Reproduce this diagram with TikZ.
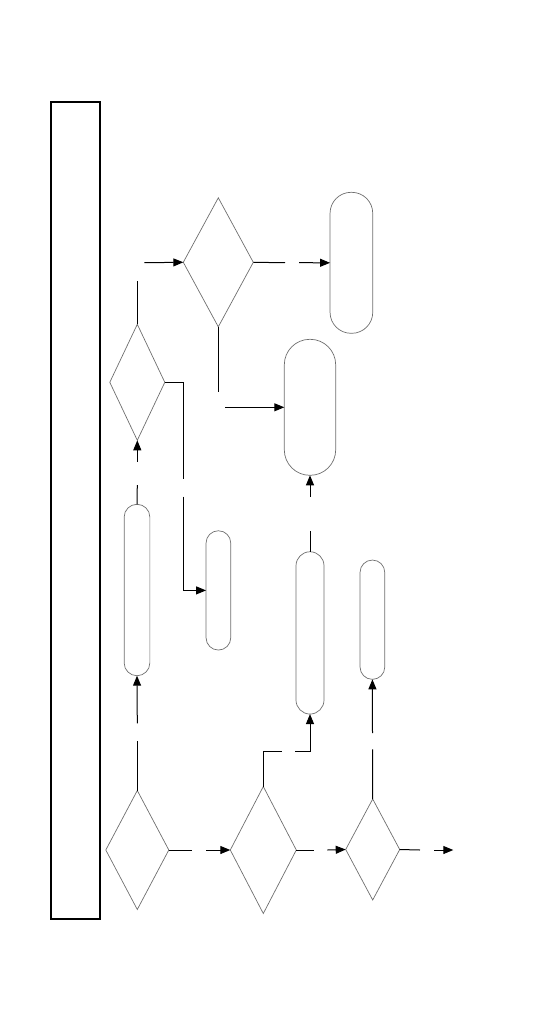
\documentclass[tikz,border=0pt]{standalone}
\usetikzlibrary{shapes.geometric,arrows.meta}
\definecolor{shapegray}{HTML}{6E6E6E}
\tikzset{
  dia/.style={diamond,draw=shapegray,line width=0.7pt,inner sep=0pt,outer sep=0pt},
  pill/.style={rectangle,draw=shapegray,line width=0.7pt,inner sep=0pt,outer sep=0pt},
  framebox/.style={rectangle,draw=black,line width=1.2pt,inner sep=0pt,outer sep=0pt,minimum width=49pt,minimum height=817pt},
  conn/.style={draw=black,line width=1pt},
  arr/.style={conn,-{Triangle[length=10pt,width=8pt]}}
}
\begin{document}
\begin{tikzpicture}[x=1pt,y=-1pt]
\useasboundingbox (0,0) rectangle (540,1026);
% frame
\node[framebox] (frame) at (75.5,510.5) {};
% diamonds
\node[dia,minimum width=70pt,minimum height=129pt] (D1) at (218.3,262.3) {};
\node[dia,minimum width=55pt,minimum height=116pt] (D2) at (137.3,382.3) {};
\node[dia,minimum width=63pt,minimum height=119pt] (D3) at (137.3,850) {};
\node[dia,minimum width=66pt,minimum height=127pt] (D4) at (263.3,850) {};
\node[dia,minimum width=54pt,minimum height=101pt] (D5) at (372.7,849.5) {};
% rounded boxes
\node[pill,rounded corners=21pt,minimum width=42.7pt,minimum height=141pt] (T1) at (351.4,262.8) {};
\node[pill,rounded corners=25.5pt,minimum width=51.4pt,minimum height=136pt] (R4) at (310,407.3) {};
\node[pill,rounded corners=12.8pt,minimum width=25.7pt,minimum height=171.4pt] (R1) at (137,590) {};
\node[pill,rounded corners=12.3pt,minimum width=24.7pt,minimum height=119.3pt] (R2) at (218.4,590.4) {};
\node[pill,rounded corners=14pt,minimum width=28pt,minimum height=162.3pt] (R3) at (310,632.9) {};
\node[pill,rounded corners=12.3pt,minimum width=24.7pt,minimum height=119.3pt] (R5) at (372.4,619.7) {};
% gap coordinates
\coordinate (a1) at (137.3,281);
\coordinate (a2) at (144.3,262.7);
\coordinate (b1) at (285,262.7);
\coordinate (b2) at (299,262.7);
\coordinate (c1) at (218.3,391.7);
\coordinate (c2) at (225,407.3);
\coordinate (d0) at (183.3,382.3);
\coordinate (d1) at (183.3,479.3);
\coordinate (d2) at (183.3,496.7);
\coordinate (e1) at (137.3,485);
\coordinate (e2) at (137.3,461.7);
\coordinate (f1) at (137.3,741);
\coordinate (f2) at (137.3,723.3);
\coordinate (g1) at (191.7,850);
\coordinate (g2) at (206,850);
\coordinate (h0) at (263.3,751.7);
\coordinate (h1) at (281.7,751.7);
\coordinate (h2) at (295,751.7);
\coordinate (i1) at (310,530.7);
\coordinate (i2) at (310,496.7);
\coordinate (j1) at (314,850);
\coordinate (j2) at (327.3,850);
\coordinate (k1) at (372.5,749.3);
\coordinate (k2) at (372.5,733);
\coordinate (l1) at (420,850);
\coordinate (l2) at (434.3,850);
\coordinate (lend) at (453.3,850);
% connectors
\draw[conn] (D2.north) -- (a1);
\draw[arr] (a2) -- (D1.west);
\draw[conn] (D1.east) -- (b1);
\draw[arr] (b2) -- (T1.west);
\draw[conn] (D1.south) -- (c1);
\draw[arr] (c2) -- (R4.west);
\draw[conn] (D2.east) -- (d0) -- (d1);
\draw[arr] (d2) |- (R2.west);
\draw[conn] (R1.north) -- (e1);
\draw[arr] (e2) -- (D2.south);
\draw[conn] (D3.north) -- (f1);
\draw[arr] (f2) -- (R1.south);
\draw[conn] (D3.east) -- (g1);
\draw[arr] (g2) -- (D4.west);
\draw[conn] (D4.north) -- (h0) -- (h1);
\draw[arr] (h2) -| (R3.south);
\draw[conn] (R3.north) -- (i1);
\draw[arr] (i2) -- (R4.south);
\draw[conn] (D4.east) -- (j1);
\draw[arr] (j2) -- (D5.west);
\draw[conn] (D5.north) -- (k1);
\draw[arr] (k2) -- (R5.south);
\draw[conn] (D5.east) -- (l1);
\draw[arr] (l2) -- (lend);
\end{tikzpicture}
\end{document}
